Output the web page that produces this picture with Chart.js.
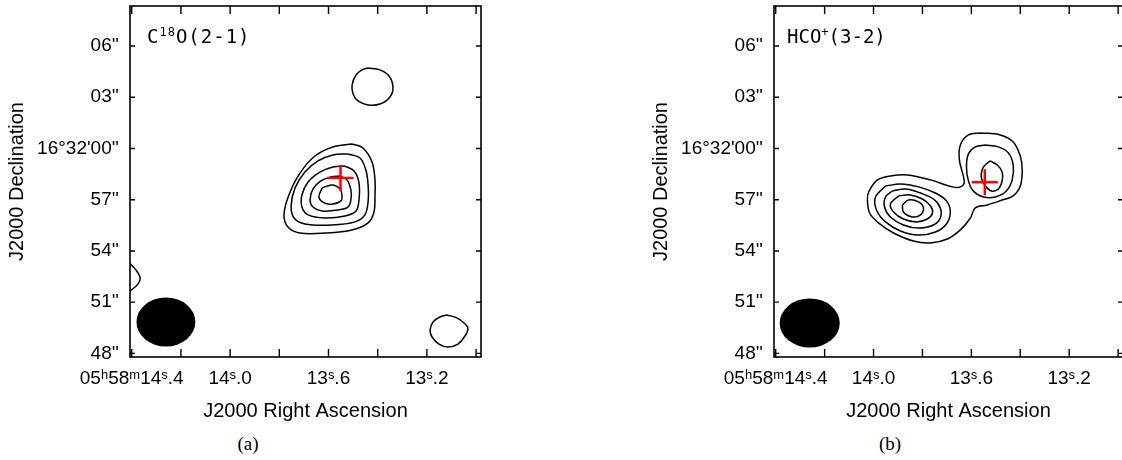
<!DOCTYPE html>
<html>
<head>
<meta charset="utf-8">
<script src="https://cdn.jsdelivr.net/npm/chart.js@4.4.1/dist/chart.umd.min.js"></script>
<style>
  html, body { margin: 0; padding: 0; background: #fff; overflow: hidden; }
  #page { position: relative; width: 1122px; height: 460px; overflow: hidden; }
  canvas { position: absolute; top: 0; }
  #cA { left: 0; }
  #cB { left: 644px; }
  .line { position: absolute; top: 27px; font-family: 'DejaVu Sans Mono', monospace; font-size: 19px; line-height: 19px; color: #000; z-index: 2; white-space: nowrap; }
  .line .sup { font-size: 12px; position: relative; top: -7px; }
  .cap { position: absolute; top: 433px; width: 60px; margin-left: -30px; text-align: center; font-family: 'Liberation Serif', 'Times New Roman', serif; font-size: 19px; color: #000; }
</style>
</head>
<body>
<div id="page">
  <canvas id="cA" width="561" height="430"></canvas>
  <canvas id="cB" width="561" height="430"></canvas>
  <div class="line" style="left:147px; letter-spacing:1px">C<span class="sup">18</span>O(2-1)</div>
  <div class="line" style="left:787px">HCO<span class="sup">+</span>(3-2)</div>
  <div class="cap" style="left:248px">(a)</div>
  <div class="cap" style="left:890px">(b)</div>
</div>
<script>
// 軸の範囲 (RA: 05h58m の秒, Dec: 16°31' からの秒角)
const raMin = 12.98, raMax = 14.407;
const decMin = 47.79, decMax = 68.34;

// 目盛り
const raTicks = [14.4, 14.2, 14.0, 13.8, 13.6, 13.4, 13.2, 13.0];
const raTickLabels = ['05ʰ58ᵐ14ˢ.4', '', '14ˢ.0', '', '13ˢ.6', '', '13ˢ.2', ''];
const decTicks = [48, 51, 54, 57, 60, 63, 66];
const decTickLabels = ["48''", "51''", "54''", "57''", "16°32'00''", "03''", "06''"];

// C18O(2-1) 等高線 [RA秒, Dec秒角]
const c18oLevel1 = [[13.504,60.26],[13.460,60.03],[13.423,59.21],[13.411,58.16],[13.411,57.28],[13.415,56.28],[13.439,55.64],[13.504,55.23],[13.614,55.05],[13.716,55.05],[13.765,55.40],[13.781,56.11],[13.761,57.28],[13.716,58.56],[13.655,59.56],[13.582,60.09]];
const c18oLevel2 = [[13.521,59.68],[13.472,59.44],[13.448,58.74],[13.439,57.86],[13.439,56.87],[13.452,56.11],[13.492,55.70],[13.586,55.52],[13.696,55.58],[13.740,55.93],[13.752,56.63],[13.736,57.69],[13.696,58.62],[13.643,59.27],[13.582,59.62]];
const c18oLevel3 = [[13.533,58.97],[13.496,58.68],[13.476,57.98],[13.476,56.98],[13.488,56.34],[13.533,56.05],[13.614,55.93],[13.683,56.11],[13.708,56.57],[13.708,57.28],[13.683,58.04],[13.635,58.62],[13.582,58.92]];
const c18oLevel4 = [[13.553,58.39],[13.525,58.16],[13.509,57.57],[13.509,56.98],[13.521,56.57],[13.561,56.40],[13.626,56.34],[13.663,56.57],[13.675,56.98],[13.663,57.63],[13.631,58.10],[13.590,58.33]];
const c18oLevel5 = [[13.626,57.69],[13.586,57.86],[13.553,57.63],[13.545,57.22],[13.549,56.93],[13.582,56.75],[13.618,56.81],[13.639,57.16]];
const c18oNorth = [[13.439,64.71],[13.391,64.60],[13.354,64.24],[13.338,63.60],[13.350,63.01],[13.391,62.60],[13.439,62.55],[13.480,62.78],[13.500,63.19],[13.504,63.72],[13.488,64.30],[13.464,64.60]];
const c18oSouth = [[13.118,50.25],[13.078,50.08],[13.049,49.78],[13.033,49.49],[13.045,49.02],[13.074,48.55],[13.114,48.38],[13.151,48.55],[13.179,48.96],[13.187,49.37],[13.175,49.84],[13.147,50.13]];
const c18oEdge = [[14.41,53.30],[14.383,52.89],[14.366,52.42],[14.374,52.07],[14.41,51.60]];

// HCO+(3-2) 等高線
const hcoLevel1 = [[13.563,60.91],[13.482,60.79],[13.429,60.38],[13.400,59.56],[13.392,58.74],[13.400,57.80],[13.429,57.22],[13.474,56.98],[13.535,56.69],[13.584,56.52],[13.604,55.93],[13.645,55.23],[13.698,54.70],[13.767,54.47],[13.837,54.58],[13.918,55.05],[13.980,55.64],[14.016,56.22],[14.025,56.98],[14.020,57.45],[13.984,58.16],[13.931,58.39],[13.861,58.45],[13.767,58.16],[13.678,57.75],[13.645,57.75],[13.629,58.04],[13.649,59.33],[13.645,60.20],[13.612,60.79]];
const hcoNorth2 = [[13.543,60.20],[13.490,60.09],[13.449,59.74],[13.429,59.03],[13.433,58.16],[13.457,57.51],[13.502,57.16],[13.551,57.16],[13.592,57.51],[13.612,58.10],[13.620,58.92],[13.612,59.68],[13.584,60.09]];
const hcoNorth3 = [[13.523,59.27],[13.494,59.03],[13.474,58.62],[13.474,58.10],[13.490,57.63],[13.518,57.51],[13.543,57.80],[13.559,58.27],[13.555,58.80],[13.539,59.09]];
const hcoSouth2 = [[13.951,57.80],[13.890,57.92],[13.816,57.75],[13.747,57.39],[13.702,56.93],[13.686,56.28],[13.702,55.58],[13.747,55.11],[13.816,54.93],[13.890,55.17],[13.951,55.70],[13.988,56.40],[13.992,57.16]];
const hcoSouth3 = [[13.923,57.51],[13.869,57.63],[13.808,57.39],[13.755,57.04],[13.727,56.52],[13.727,55.93],[13.755,55.52],[13.816,55.34],[13.878,55.52],[13.931,55.99],[13.955,56.57],[13.951,57.16]];
const hcoSouth4 = [[13.898,57.22],[13.849,57.28],[13.800,57.04],[13.767,56.63],[13.759,56.22],[13.780,55.87],[13.825,55.70],[13.878,55.87],[13.918,56.28],[13.931,56.75]];
const hcoSouth5 = [[13.882,56.69],[13.857,56.98],[13.816,56.87],[13.796,56.52],[13.808,56.11],[13.841,55.99],[13.878,56.28]];

// 中心位置 (赤十字) とビーム (直径は秒角)
const crossA = [13.551, 58.27];
const crossB = [13.545, 58.02];
const beamA = { ra: 14.261, dec: 49.84, major: 3.45, minor: 2.87 };
const beamB = { ra: 14.261, dec: 49.78, major: 3.52, minor: 2.87 };

//等高線をデータセットに変換
function contourSet(points, closed) {
    let data = points.map(p => ({ x: p[0], y: p[1] }));
    if (closed) data.push({ x: points[0][0], y: points[0][1] });
    return {
        data: data,
        showLine: true,
        borderColor: '#000',
        borderWidth: 1.5,
        pointRadius: 0,
        tension: 0.35,
        fill: false,
        order: 1
    };
}

function crossSet(p) {
    return {
        data: [{ x: p[0], y: p[1] }],
        pointStyle: 'cross',
        pointRadius: 13,
        borderColor: '#ff0000',
        borderWidth: 2.5,
        showLine: false,
        order: 0
    };
}

// 枠・内向き目盛り・ビーム
const framePlugin = {
    id: 'frame',
    afterDatasetsDraw(chart, args, opts) {
        const { ctx, scales: { x, y } } = chart;
        const b = opts.beam;
        const pxPerArcsec = Math.abs(y.getPixelForValue(1) - y.getPixelForValue(0));
        ctx.save();
        ctx.fillStyle = '#000';
        ctx.beginPath();
        ctx.ellipse(x.getPixelForValue(b.ra), y.getPixelForValue(b.dec),
            b.major / 2 * pxPerArcsec, b.minor / 2 * pxPerArcsec, 0, 0, Math.PI * 2);
        ctx.fill();
        ctx.restore();
    },
    afterDraw(chart) {
        const { ctx, chartArea: a, scales: { x, y } } = chart;
        ctx.save();
        ctx.strokeStyle = '#000';
        ctx.lineWidth = 1.6;
        ctx.strokeRect(a.left, a.top, a.right - a.left, a.bottom - a.top);
        ctx.lineWidth = 1.4;
        ctx.beginPath();
        for (const v of raTicks) {
            let px = x.getPixelForValue(v);
            ctx.moveTo(px, a.bottom); ctx.lineTo(px, a.bottom - 8);
            ctx.moveTo(px, a.top); ctx.lineTo(px, a.top + 8);
        }
        for (const v of decTicks) {
            let py = y.getPixelForValue(v);
            ctx.moveTo(a.left, py); ctx.lineTo(a.left + 5, py);
            ctx.moveTo(a.right, py); ctx.lineTo(a.right - 5, py);
        }
        ctx.stroke();
        ctx.restore();
    }
};

function makeChart(id, datasets, beam, padRight) {
    return new Chart(document.getElementById(id), {
        type: 'scatter',
        data: { datasets: datasets },
        plugins: [framePlugin],
        options: {
            responsive: false,
            animation: false,
            devicePixelRatio: 1,
            layout: { autoPadding: false, padding: { left: 0, top: 6, right: padRight, bottom: 0 } },
            plugins: {
                legend: { display: false },
                tooltip: { enabled: false },
                frame: { beam: beam }
            },
            scales: {
                x: {
                    type: 'linear',
                    min: raMin, max: raMax,
                    reverse: true,
                    afterBuildTicks: s => { s.ticks = raTicks.map(v => ({ value: v })); },
                    afterFit: s => { s.height = 73; s.paddingLeft = 0; s.paddingRight = 0; },
                    grid: { display: false, drawTicks: false, tickLength: 0 },
                    border: { display: false },
                    ticks: {
                        autoSkip: false, maxRotation: 0, padding: 10,
                        color: '#000',
                        font: { family: "'Liberation Sans', Arial, sans-serif", size: 19 },
                        callback: (v, i) => raTickLabels[i]
                    },
                    title: {
                        display: true, text: 'J2000 Right Ascension', color: '#000',
                        font: { family: "'Liberation Sans', Arial, sans-serif", size: 20 },
                        padding: { top: 0, bottom: 7 }
                    }
                },
                y: {
                    type: 'linear',
                    min: decMin, max: decMax,
                    afterBuildTicks: s => { s.ticks = decTicks.map(v => ({ value: v })); },
                    afterFit: s => { s.width = 130; s.paddingTop = 0; s.paddingBottom = 0; },
                    grid: { display: false, drawTicks: false, tickLength: 0 },
                    border: { display: false },
                    ticks: {
                        autoSkip: false, padding: 11,
                        color: '#000',
                        font: { family: "'Liberation Sans', Arial, sans-serif", size: 19 },
                        callback: (v, i) => decTickLabels[i]
                    },
                    title: {
                        display: true, text: 'J2000 Declination', color: '#000',
                        font: { family: "'Liberation Sans', Arial, sans-serif", size: 20 },
                        padding: { top: 5, bottom: 0 }
                    }
                }
            }
        }
    });
}

let dataA = [crossSet(crossA)];
[c18oLevel1, c18oLevel2, c18oLevel3, c18oLevel4, c18oLevel5, c18oNorth, c18oSouth].forEach(c => dataA.push(contourSet(c, true)));
dataA.push(contourSet(c18oEdge, false));

let dataB = [crossSet(crossB)];
[hcoLevel1, hcoNorth2, hcoNorth3, hcoSouth2, hcoSouth3, hcoSouth4, hcoSouth5].forEach(c => dataB.push(contourSet(c, true)));

makeChart('cA', dataA, beamA, 80);
makeChart('cB', dataB, beamB, 82);
</script>
</body>
</html>
